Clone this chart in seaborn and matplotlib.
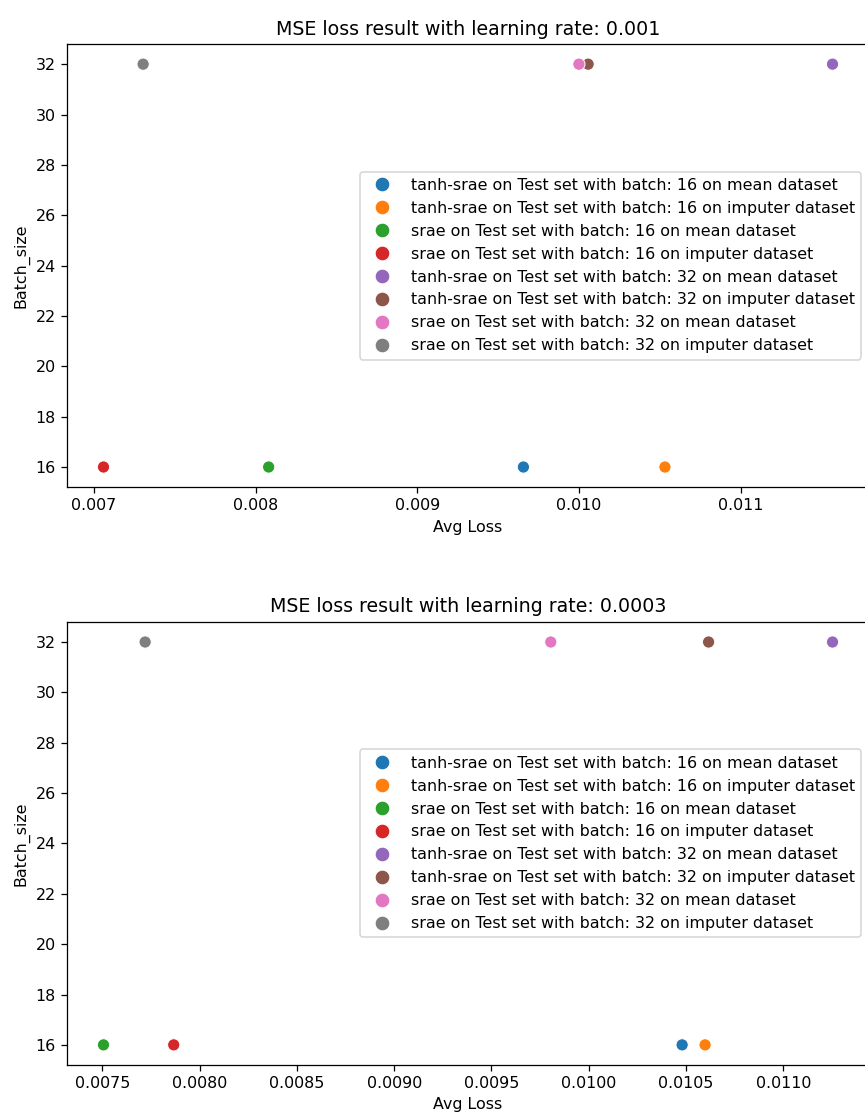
import numpy as np
import pandas as pd
import seaborn as sns
from matplotlib import pyplot as plt

labels = [
    "tanh-srae on Test set with batch: 16 on mean dataset",
    "tanh-srae on Test set with batch: 16 on imputer dataset",
    "srae on Test set with batch: 16 on mean dataset",
    "srae on Test set with batch: 16 on imputer dataset",
    "tanh-srae on Test set with batch: 32 on mean dataset",
    "tanh-srae on Test set with batch: 32 on imputer dataset",
    "srae on Test set with batch: 32 on mean dataset",
    "srae on Test set with batch: 32 on imputer dataset",
]
batch_sizes = [16, 16, 16, 16, 32, 32, 32, 32]
loss_lr_001 = [0.009656, 0.010531, 0.008081, 0.007060, 0.011567, 0.010056, 0.009999, 0.007305]
loss_lr_0003 = [0.010480, 0.010598, 0.007506, 0.007867, 0.011253, 0.010616, 0.009805, 0.007720]
learning_rates = ["0.001", "0.0003"]

DPI = 114


def draw(ax, losses, lr):
    df = pd.DataFrame({"Avg Loss": losses, "Batch_size": batch_sizes, "run": labels})
    sns.scatterplot(df, x="Avg Loss", y="Batch_size", hue="run", hue_order=labels,
                    palette="tab10", s=60, ax=ax)
    ax.set_yticks(np.arange(16, 33, 2))
    ax.set_title(f"MSE loss result with learning rate: {lr}")
    ax.legend(loc="center right", markerscale=1.2)


fig, axes = plt.subplots(2, 1, figsize=(865 / DPI, 1120 / DPI), dpi=DPI)
draw(axes[0], loss_lr_001, learning_rates[0])
draw(axes[1], loss_lr_0003, learning_rates[1])
fig.subplots_adjust(left=0.0775, right=1.0046, top=0.9607, bottom=0.0491, hspace=0.304)
plt.savefig("out.png", dpi=DPI)
